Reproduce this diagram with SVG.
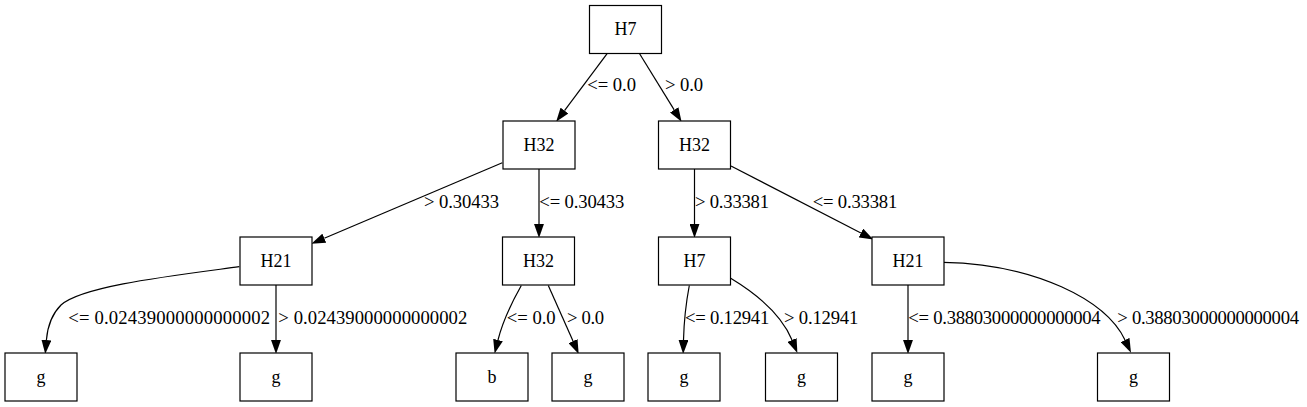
<svg xmlns="http://www.w3.org/2000/svg" width="1307" height="407" viewBox="0 0 1307 407">
<style>
.node rect{fill:#fff;stroke:#000;stroke-width:1.2}
.node text{font-family:"Liberation Serif","Times New Roman",serif;font-size:18px;text-anchor:middle;fill:#000}
.edge path{fill:none;stroke:#000;stroke-width:1.2}
.lbl{font-family:"Liberation Serif","Times New Roman",serif;font-size:18.67px;fill:#000}
</style>
<defs>
<marker id="ah" markerUnits="userSpaceOnUse" markerWidth="14" markerHeight="10" viewBox="0 0 13.3 9.4" refX="0" refY="4.7" orient="auto">
<path d="M0,0 L13.3,4.7 L0,9.4 z" fill="#000"/>
</marker>
</defs>
<rect width="1307" height="407" fill="#fff"/>
<g id="edges" class="edge">
<path d="M607.3,53.3 L564.5,110.6" marker-end="url(#ah)"/>
<path d="M639.3,53.3 L674.2,109.9" marker-end="url(#ah)"/>
<path d="M502.3,162.7 L324.3,238.2" marker-end="url(#ah)"/>
<path d="M539,169 L539,224" marker-end="url(#ah)"/>
<path d="M694.5,169 L694.5,224" marker-end="url(#ah)"/>
<path d="M731,166 L860.9,233" marker-end="url(#ah)"/>
<path d="M239.3,266.7 C170,276 82,286 61,305 C51,315 47.5,327 46.4,340" marker-end="url(#ah)"/>
<path d="M276,285 L276,340" marker-end="url(#ah)"/>
<path d="M521.3,285.5 C512,302 503,320 498,340" marker-end="url(#ah)"/>
<path d="M548.3,285.5 L573,341.1" marker-end="url(#ah)"/>
<path d="M689.3,285.5 C686,303 684,320 683.5,340" marker-end="url(#ah)"/>
<path d="M730.7,278.3 C760,296 782,316 792,340" marker-end="url(#ah)"/>
<path d="M908,285 L908,340" marker-end="url(#ah)"/>
<path d="M943.3,262.3 C1035,264 1106,300 1125,340" marker-end="url(#ah)"/>
</g>
<g id="edge-labels">
<text class="lbl" x="587.3" y="91" textLength="48.7">&lt;= 0.0</text>
<text class="lbl" x="665" y="91" textLength="38">&gt; 0.0</text>
<text class="lbl" x="424" y="208" textLength="75">&gt; 0.30433</text>
<text class="lbl" x="539.3" y="208" textLength="85">&lt;= 0.30433</text>
<text class="lbl" x="695" y="208" textLength="74">&gt; 0.33381</text>
<text class="lbl" x="812.7" y="208" textLength="84.6">&lt;= 0.33381</text>
<text class="lbl" x="68.3" y="324" textLength="201.7">&lt;= 0.02439000000000002</text>
<text class="lbl" x="278.3" y="324" textLength="189">&gt; 0.02439000000000002</text>
<text class="lbl" x="506.7" y="324" textLength="49">&lt;= 0.0</text>
<text class="lbl" x="567" y="324" textLength="37">&gt; 0.0</text>
<text class="lbl" x="685" y="324" textLength="84.3">&lt;= 0.12941</text>
<text class="lbl" x="784" y="324" textLength="74.3">&gt; 0.12941</text>
<text class="lbl" x="908.3" y="324" textLength="192.4">&lt;= 0.38803000000000004</text>
<text class="lbl" x="1117.3" y="324" textLength="181.7">&gt; 0.38803000000000004</text>
</g>
<g id="n0" class="node"><rect x="589.5" y="5.5" width="72" height="48"/><text x="625.5" y="35">H7</text></g>
<g id="n1" class="node"><rect x="503" y="121" width="72" height="48"/><text x="539" y="151">H32</text></g>
<g id="n2" class="node"><rect x="658.5" y="121" width="72" height="48"/><text x="694.5" y="151">H32</text></g>
<g id="n3" class="node"><rect x="240" y="237" width="72" height="48"/><text x="276" y="267">H21</text></g>
<g id="n4" class="node"><rect x="502.5" y="237" width="72" height="48"/><text x="538.5" y="267">H32</text></g>
<g id="n5" class="node"><rect x="658.5" y="237" width="72" height="48"/><text x="694.5" y="267">H7</text></g>
<g id="n6" class="node"><rect x="872" y="237" width="72" height="48"/><text x="908" y="267">H21</text></g>
<g id="n7" class="node"><rect x="5" y="353" width="72" height="48"/><text x="41" y="383">g</text></g>
<g id="n8" class="node"><rect x="240" y="353" width="72" height="48"/><text x="276" y="383">g</text></g>
<g id="n9" class="node"><rect x="456" y="353" width="72" height="48"/><text x="492" y="383">b</text></g>
<g id="n10" class="node"><rect x="552" y="353" width="72" height="48"/><text x="588" y="383">g</text></g>
<g id="n11" class="node"><rect x="648" y="353" width="72" height="48"/><text x="684" y="383">g</text></g>
<g id="n12" class="node"><rect x="765.5" y="353" width="72" height="48"/><text x="801.5" y="383">g</text></g>
<g id="n13" class="node"><rect x="872" y="353" width="72" height="48"/><text x="908" y="383">g</text></g>
<g id="n14" class="node"><rect x="1097.5" y="353" width="72" height="48"/><text x="1133.5" y="383">g</text></g>
</svg>
